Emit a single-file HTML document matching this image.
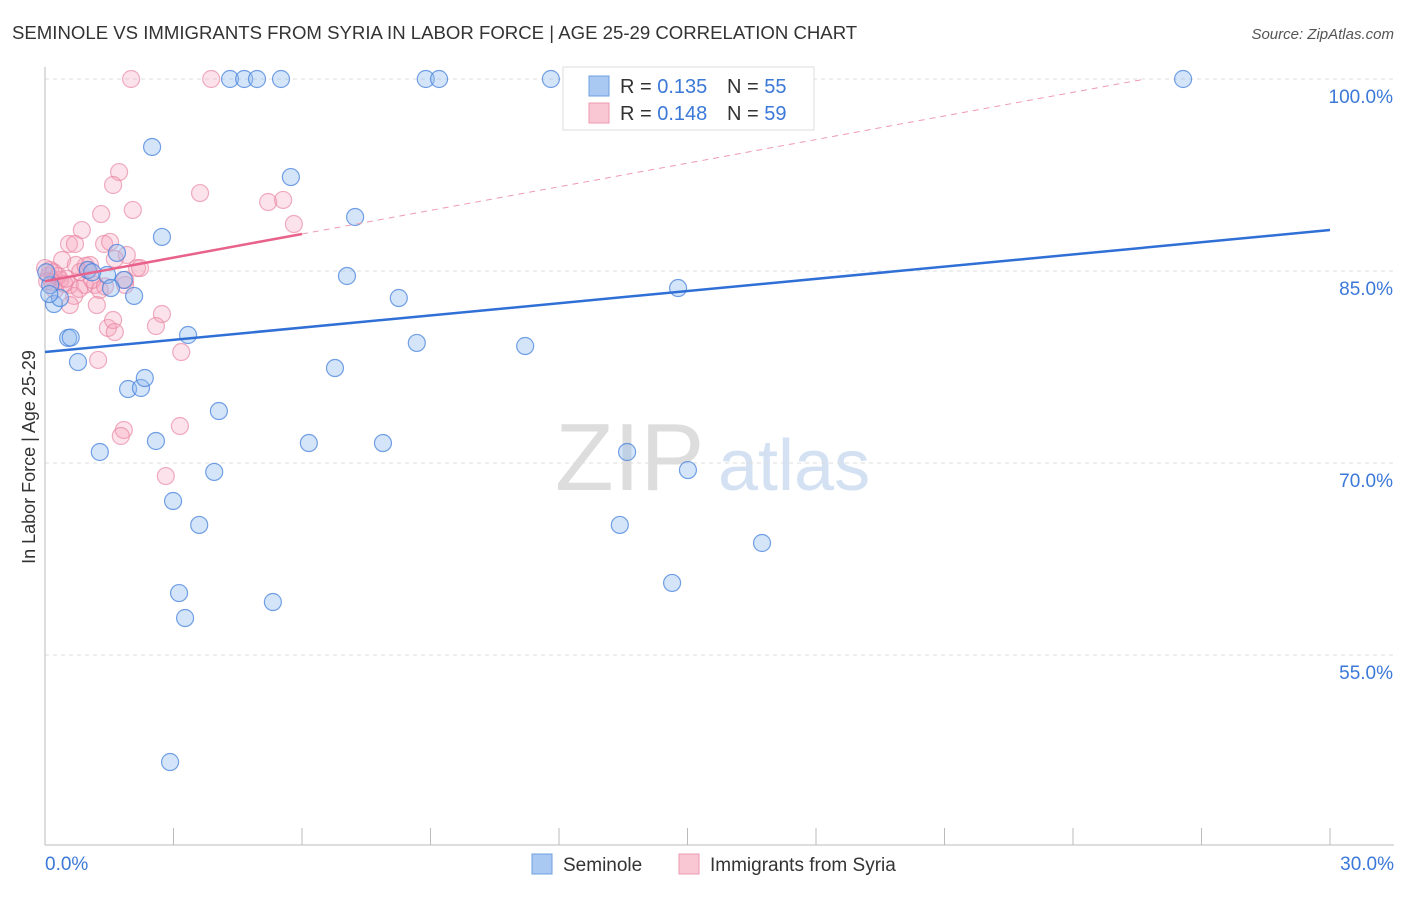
<!DOCTYPE html>
<html><head><meta charset="utf-8"><style>
body{margin:0;background:#fff;font-family:"Liberation Sans",sans-serif;}
svg text{font-family:"Liberation Sans",sans-serif;}
</style></head><body>
<svg id="chart" width="1406" height="892" xmlns="http://www.w3.org/2000/svg">
<text x="12" y="39" font-size="18.6" fill="#333">SEMINOLE VS IMMIGRANTS FROM SYRIA IN LABOR FORCE | AGE 25-29 CORRELATION CHART</text>
<text x="1394" y="39" font-size="15" fill="#555" font-style="italic" text-anchor="end">Source: ZipAtlas.com</text>
<text x="35" y="457" font-size="18" fill="#333" transform="rotate(-90 35 457)" text-anchor="middle">In Labor Force | Age 25-29</text>
<text x="555" y="490" font-size="96" fill="#ddd" font-family="Liberation Serif">ZIP</text>
<text x="718" y="490" font-size="72" fill="#d3e1f3">atlas</text>
<g id="grid"></g><g id="pts"></g><g id="lines"></g>
<g>
<rect x="563" y="67" width="251" height="63" fill="#fff" stroke="#ddd"/>
<rect x="589" y="76" width="20" height="20" fill="#a9c9f2" stroke="#6f9fe0"/>
<rect x="589" y="103" width="20" height="20" fill="#f9c6d4" stroke="#ee9ab2"/>
<text x="620" y="93" font-size="20" fill="#333">R = <tspan fill="#3b78d8">0.135</tspan><tspan x="727">N = </tspan><tspan fill="#3b78d8">55</tspan></text>
<text x="620" y="120" font-size="20" fill="#333">R = <tspan fill="#3b78d8">0.148</tspan><tspan x="727">N = </tspan><tspan fill="#3b78d8">59</tspan></text>
</g>
<g>
<rect x="532" y="854" width="20" height="20" fill="#a9c9f2" stroke="#6f9fe0"/>
<text x="563" y="871" font-size="19" fill="#333">Seminole</text>
<rect x="679" y="854" width="20" height="20" fill="#f9c6d4" stroke="#ee9ab2"/>
<text x="710" y="871" font-size="19" fill="#333">Immigrants from Syria</text>
</g>
<text x="45" y="870" font-size="19" fill="#3b78d8">0.0%</text>
<text x="1394" y="870" font-size="19" fill="#3b78d8" text-anchor="end">30.0%</text>
</svg>
<script>
const yTicks=[100,85,70,55];
const xTickCount=10;
const blueX=[4.32,4.65,4.95,5.51,8.89,9.20,11.81,15.62,26.57,2.50,5.74,2.73,7.24,1.68,1.45,1.84,1.54,2.08,7.05,8.26,14.78,0.21,0.35,0.54,3.34,8.68,11.21,6.77,0.77,1.94,2.24,2.33,4.06,2.59,6.16,7.89,1.28,3.95,13.59,15.01,2.99,3.60,13.42,16.74,14.64,3.13,5.32,3.27,2.92,1.0,0.12,0.03,0.6,1.1,0.1];
const blueY=[100,100,100,100,100,100,100,100,100,94.69,92.34,87.66,89.22,86.41,84.69,84.30,83.67,83.05,84.61,82.89,83.67,82.42,82.89,79.77,80.0,79.38,79.14,77.42,77.89,75.78,75.86,76.64,74.06,71.72,71.56,71.56,70.86,69.30,70.86,69.45,67.03,65.16,65.16,63.75,60.63,59.84,59.14,57.89,46.64,85.08,83.9,84.9,79.8,84.9,83.2];
const pinkX=[2.01,3.88,1.73,1.59,3.62,1.31,2.05,5.21,5.56,5.81,0.86,0.56,0.70,1.38,1.52,1.91,0.40,0.72,1.05,2.15,2.22,0.12,0.35,0.58,0.93,1.17,0.23,1.28,1.87,1.87,0.68,1.21,0.58,2.73,2.59,1.47,1.59,1.63,3.18,1.24,1.84,1.77,3.15,2.82,0.09,0,0.82,1.0,0.16,1.63,0.3,0.45,0.8,1.1,0.2,0.5,1.4,0.05,0.95];
const pinkY=[100,100,92.73,91.72,91.09,89.45,89.77,90.39,90.55,88.67,88.20,87.11,87.11,87.11,87.27,86.25,85.86,85.47,85.47,85.23,85.23,85.08,84.30,83.91,83.91,83.91,83.52,83.52,83.91,84.30,83.05,82.34,82.34,81.64,80.70,80.55,81.17,80.23,78.67,78.05,72.58,72.11,72.89,68.98,84.61,85.23,84.92,85.08,84.14,85.94,84.6,84.0,83.6,84.3,84.9,84.4,83.8,84.2,85.4];
const blueLine=[78.67,88.2];
const pinkLine=[84.2,0.615];
const x0=45,x1=1330,yTop=79,pxPer=12.8;
const X=v=>x0+(v/30)*(x1-x0);
const Y=v=>yTop+(100-v)*pxPer;
const NS="http://www.w3.org/2000/svg";
function mk(t,a,p){const e=document.createElementNS(NS,t);for(const k in a)e.setAttribute(k,a[k]);p.appendChild(e);return e;}
const grid=document.getElementById('grid');
yTicks.forEach(t=>{
 const l=mk('line',{x1:x0,x2:1394,y1:Y(t),y2:Y(t),stroke:'#ddd','stroke-dasharray':'4,4'},grid);
 
 
 const tx=mk('text',{x:1393,y:Y(t)+24,'font-size':19,fill:'#3b78d8','text-anchor':'end'},grid);
 tx.textContent=t.toFixed(1)+'%';
 
 
});
const axL=mk('line',{x1:x0,x2:x0,y1:67,y2:845,stroke:'#bbb'},grid);


const axB=mk('line',{x1:x0,x2:1394,y1:845,y2:845,stroke:'#bbb'},grid);


for(let i=1;i<=xTickCount;i++){
 const xx=X(i*3);
 const tk=mk('line',{x1:xx,x2:xx,y1:828,y2:845,stroke:'#bbb'},grid);
 
 
}
const pts=document.getElementById('pts');
pinkX.forEach((v,i)=>{
 const c=mk('circle',{cx:X(v),cy:Y(pinkY[i]),r:8.5,fill:'rgba(244,160,185,0.3)',stroke:'rgba(232,130,160,0.65)','stroke-width':1.2},pts);
 
 
});
blueX.forEach((v,i)=>{
 const c=mk('circle',{cx:X(v),cy:Y(blueY[i]),r:8.5,fill:'rgba(150,190,240,0.4)',stroke:'rgba(70,130,220,0.75)','stroke-width':1.2},pts);
 
 
});
const lines=document.getElementById('lines');
const bl=mk('line',{x1:X(0),y1:Y(blueLine[0]),x2:X(30),y2:Y(blueLine[1]),stroke:'#2f6fd6','stroke-width':2.5},lines);


const pEnd=(100-pinkLine[0])/pinkLine[1];
const pd=mk('line',{x1:X(6),y1:Y(pinkLine[0]+6*pinkLine[1]),x2:X(pEnd),y2:Y(100),stroke:'#ee9ab2','stroke-width':1,'stroke-dasharray':'6,5'},lines);


const ps=mk('line',{x1:X(0),y1:Y(pinkLine[0]),x2:X(6),y2:Y(pinkLine[0]+6*pinkLine[1]),stroke:'#e8628c','stroke-width':2.5},lines);


</script>
</body></html>
